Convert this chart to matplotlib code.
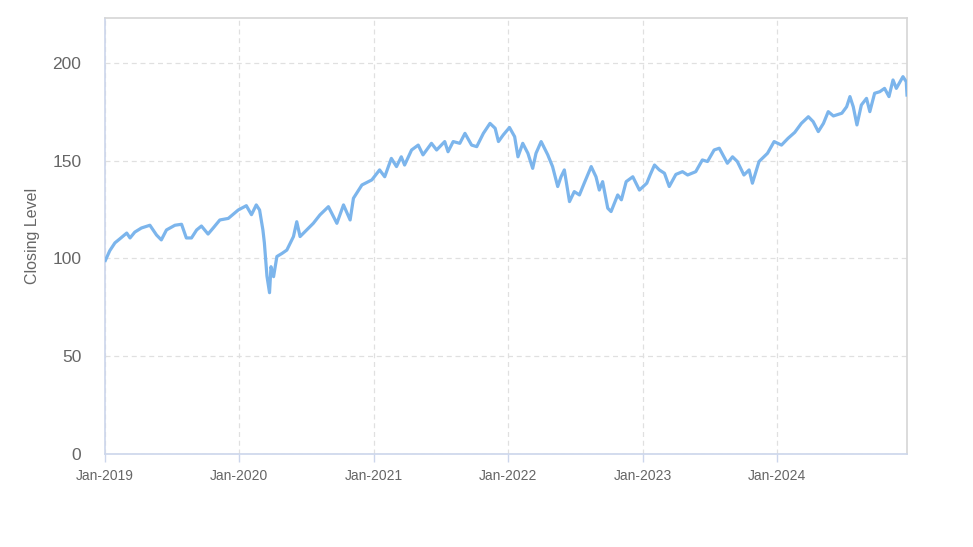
import matplotlib
matplotlib.use('Agg')
import matplotlib.pyplot as plt
import matplotlib.dates as mdates
import numpy as np
import pandas as pd

plt.rcParams['font.family'] = ['Liberation Sans', 'DejaVu Sans']

# closing level
dates = [
    '2019-01-02', '2019-01-14', '2019-01-28', '2019-02-10', '2019-03-01', '2019-03-10',
    '2019-03-23', '2019-04-10', '2019-05-03', '2019-05-21', '2019-06-03', '2019-06-17',
    '2019-07-10', '2019-07-28', '2019-08-10', '2019-08-24', '2019-09-07', '2019-09-20',
    '2019-10-08', '2019-10-22', '2019-11-09', '2019-12-02', '2019-12-29',
    '2020-01-20', '2020-02-03', '2020-02-16', '2020-02-25', '2020-03-05', '2020-03-09',
    '2020-03-16', '2020-03-23', '2020-03-27', '2020-04-03', '2020-04-12', '2020-04-26',
    '2020-05-09', '2020-05-18', '2020-05-27', '2020-06-05', '2020-06-14', '2020-07-02',
    '2020-07-20', '2020-08-07', '2020-08-30', '2020-09-22', '2020-10-10', '2020-10-28',
    '2020-11-06', '2020-11-29', '2020-12-26',
    '2021-01-16', '2021-01-30', '2021-02-17', '2021-03-03', '2021-03-16', '2021-03-25',
    '2021-04-13', '2021-05-01', '2021-05-14', '2021-06-06', '2021-06-20', '2021-07-12',
    '2021-07-21', '2021-08-04', '2021-08-22', '2021-09-05', '2021-09-23', '2021-10-07',
    '2021-10-25', '2021-11-12', '2021-11-26', '2021-12-05', '2021-12-18',
    '2022-01-04', '2022-01-18', '2022-01-27', '2022-02-09', '2022-02-23', '2022-03-08',
    '2022-03-17', '2022-03-31', '2022-04-18', '2022-05-01', '2022-05-15', '2022-05-24',
    '2022-06-02', '2022-06-16', '2022-06-29', '2022-07-13', '2022-07-26', '2022-08-14',
    '2022-08-27', '2022-09-05', '2022-09-14', '2022-09-28', '2022-10-07', '2022-10-16',
    '2022-10-25', '2022-11-04', '2022-11-17', '2022-12-05', '2022-12-23',
    '2023-01-12', '2023-01-21', '2023-02-02', '2023-02-15', '2023-03-01', '2023-03-14',
    '2023-04-01', '2023-04-19', '2023-05-03', '2023-05-25', '2023-06-12', '2023-06-26',
    '2023-07-14', '2023-07-28', '2023-08-19', '2023-09-02', '2023-09-15', '2023-10-03',
    '2023-10-17', '2023-10-26', '2023-11-13', '2023-12-06', '2023-12-24',
    '2024-01-13', '2024-01-31', '2024-02-18', '2024-03-07', '2024-03-26', '2024-04-08',
    '2024-04-22', '2024-05-06', '2024-05-19', '2024-06-02', '2024-06-25', '2024-07-08',
    '2024-07-17', '2024-07-26', '2024-08-05', '2024-08-17', '2024-08-31', '2024-09-09',
    '2024-09-22', '2024-10-06', '2024-10-19', '2024-10-31', '2024-11-11', '2024-11-20',
    '2024-12-08', '2024-12-17', '2024-12-19',
]
closing = [
    99.0, 104.0, 108.0, 110.0, 113.0, 110.5,
    113.5, 115.6, 117.0, 112.0, 109.5, 114.6,
    117.0, 117.5, 110.5, 110.5, 114.6, 116.6,
    112.5, 115.6, 119.7, 120.5, 124.8,
    127.0, 122.4, 127.4, 124.8, 114.6, 108.0,
    91.0, 82.5, 95.8, 90.7, 101.0, 102.6,
    104.3, 107.8, 111.2, 118.8, 111.2, 114.6,
    118.0, 122.3, 126.5, 118.0, 127.4, 119.7,
    130.8, 137.6, 140.2,
    145.3, 141.8, 151.2, 147.0, 152.0, 147.8,
    155.5, 158.0, 153.0, 158.9, 155.5, 159.8,
    154.6, 159.8, 158.9, 164.0, 158.0, 157.2,
    164.0, 169.1, 166.6, 159.8, 163.2,
    167.0, 162.3, 152.0, 158.9, 153.8, 146.1,
    153.8, 159.8, 153.0, 147.0, 136.8, 141.8,
    145.3, 129.1, 134.2, 132.5, 138.5, 147.0,
    141.8, 135.0, 139.3, 125.7, 124.0, 128.2,
    132.5, 130.0, 139.3, 141.8, 135.0,
    138.5, 142.7, 147.8, 145.3, 143.6, 136.8,
    143.0, 144.4, 142.7, 144.4, 150.4, 149.6,
    155.5, 156.4, 148.7, 152.0, 149.6, 142.7,
    145.3, 138.5, 149.6, 153.8, 159.8,
    158.0, 161.5, 164.5, 169.1, 172.5, 170.0,
    164.9, 169.1, 175.1, 172.9, 174.3, 177.6,
    182.8, 177.6, 168.3, 178.5, 181.9, 175.1,
    184.5, 185.3, 187.0, 182.8, 191.3, 187.0,
    193.0, 190.4, 183.6,
]
year_ticks = ['2019-01-01', '2020-01-01', '2021-01-01', '2022-01-01', '2023-01-01', '2024-01-01']
y_ticks = [0, 50, 100, 150, 200]

x = pd.to_datetime(dates)

fig = plt.figure(figsize=(9.73, 5.47), dpi=100)
ax = fig.add_axes([105 / 973, 1 - 454 / 547, 802 / 973, 436 / 547])

ax.plot(x, closing, color='#7cb5ec', lw=2.3, solid_joinstyle='round', zorder=3)

ax.set_xlim(x[0], x[-1])
ax.set_ylim(0, 223)
ax.set_yticks(y_ticks)
ax.set_xticks(pd.to_datetime(year_ticks))
ax.xaxis.set_major_formatter(mdates.DateFormatter('%b-%Y'))

ax.grid(True, color='#e0e0e0', ls=(0, (4, 3)), lw=0.9)
ax.tick_params(axis='y', length=0, pad=17, labelsize=12.5, labelcolor='#666666')
ax.tick_params(axis='x', length=6, width=1, color='#ccd6eb', pad=5,
               labelsize=10, labelcolor='#666666')
ax.set_ylabel('Closing Level', fontsize=11.5, color='#666666', labelpad=9)

for side in ('left', 'bottom'):
    ax.spines[side].set_color('#ccd6eb')
    ax.spines[side].set_linewidth(1.2)
for side in ('top', 'right'):
    ax.spines[side].set_color('#d6d6d6')
    ax.spines[side].set_linewidth(1.2)

plt.savefig('out.png', dpi=100)
